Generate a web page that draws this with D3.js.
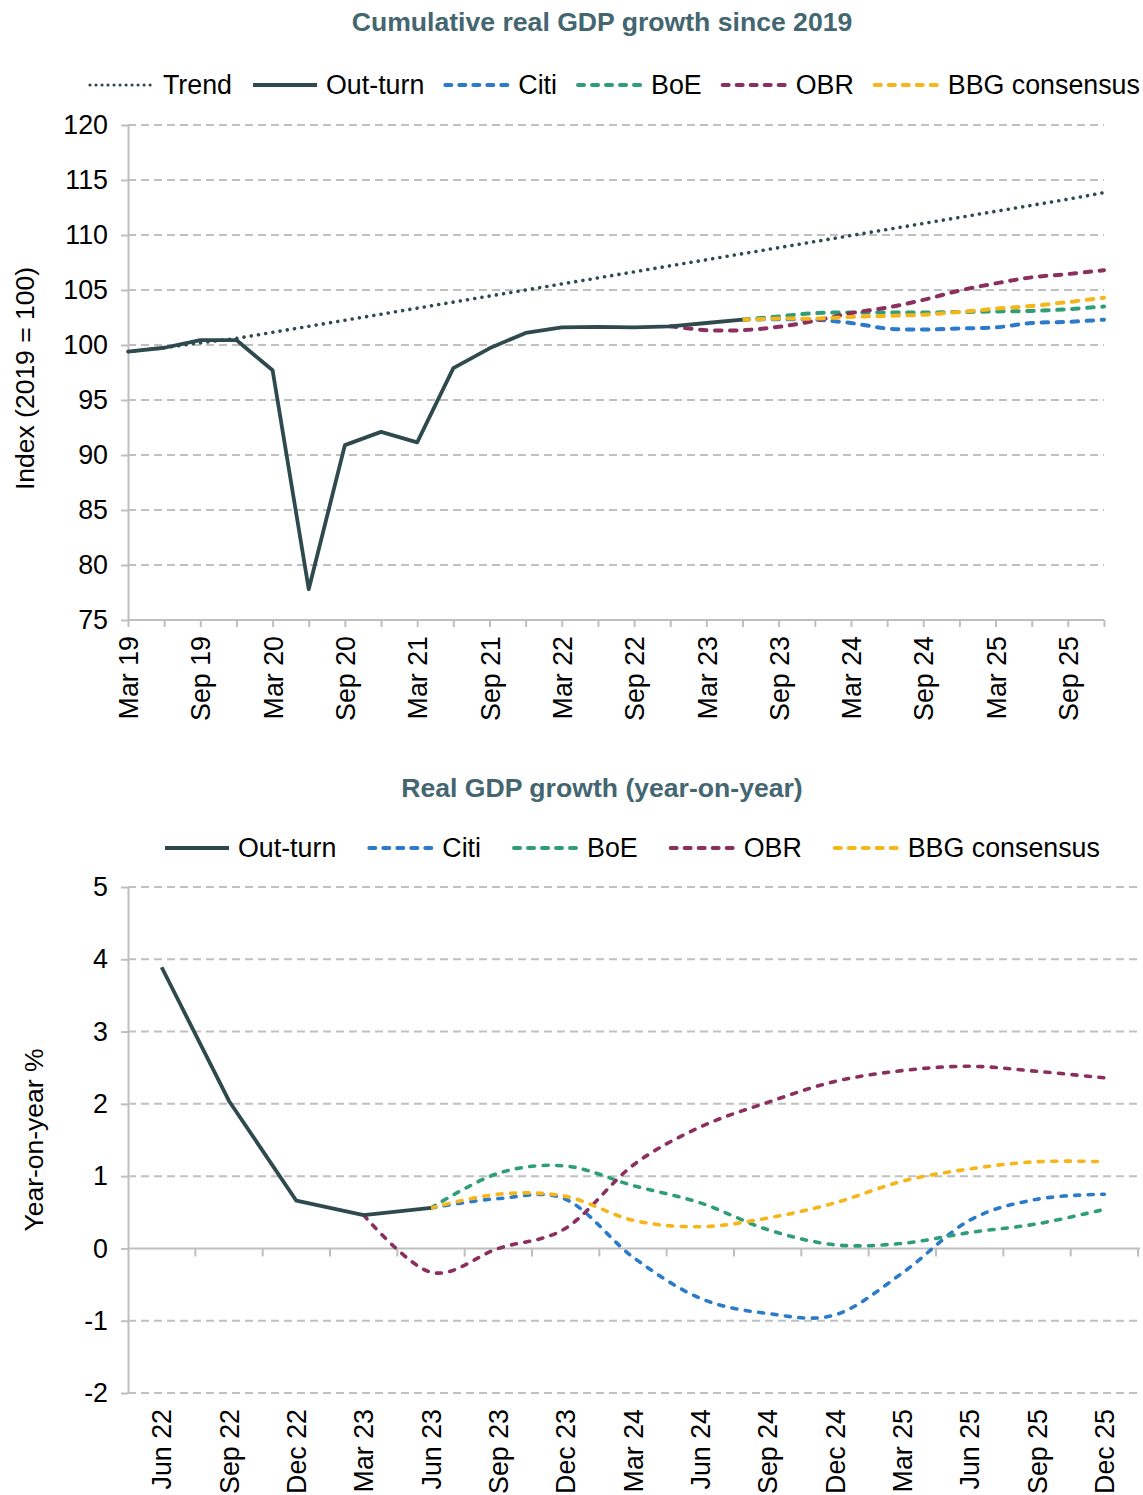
<!DOCTYPE html>
<html>
<head>
<meta charset="utf-8">
<script src="https://cdn.jsdelivr.net/npm/d3@7"></script>
<style>
    body { margin: 0; background: #fff; }
    svg { display: block; font-family: "Liberation Sans", Arial, sans-serif; }
    .axis text { font-size: 26.8px; fill: #000; }
    .grid line { stroke: #c0c0c0; stroke-width: 2; stroke-dasharray: 8,5; }
    .title { font-size: 26.6px; font-weight: bold; fill: #436670; }
    .legend text { font-size: 26.8px; fill: #000; }
    .ytitle { font-size: 26.5px; fill: #000; }
</style>
</head>
<body>
<svg id="chart" width="1143" height="1495"></svg>
<script>
// ---- data: cumulative index (top chart) ----
var topQuarters = ["Mar 19","Jun 19","Sep 19","Dec 19","Mar 20","Jun 20","Sep 20","Dec 20",
                   "Mar 21","Jun 21","Sep 21","Dec 21","Mar 22","Jun 22","Sep 22","Dec 22",
                   "Mar 23","Jun 23","Sep 23","Dec 23","Mar 24","Jun 24","Sep 24","Dec 24",
                   "Mar 25","Jun 25","Sep 25","Dec 25"];
var topYTicks = [75, 80, 85, 90, 95, 100, 105, 110, 115, 120];

var trendTop = [99.4, 99.75, 100.2, 100.6, 101.15, 101.7, 102.25, 102.8, 103.35, 103.9, 104.45, 105.0,
                105.55, 106.1, 106.65, 107.2, 107.75, 108.3, 108.85, 109.4, 109.95, 110.5, 111.05,
                111.6, 112.15, 112.7, 113.25, 113.85];
var outturnTop = [99.4, 99.75, 100.45, 100.45, 97.7, 77.8, 90.9, 92.1, 91.15, 97.9, 99.7, 101.1,
                  101.6, 101.65, 101.6, 101.7, 102.0, 102.3];
// forecasts start at Jun 23 (OBR at Dec 22)
var citiTop = [102.3, 102.35, 102.3, 102.0, 101.5, 101.4, 101.5, 101.6, 102.0, 102.1, 102.3];
var boeTop  = [102.3, 102.6, 102.9, 102.95, 102.95, 102.95, 103.0, 103.05, 103.1, 103.25, 103.5];
var bbgTop  = [102.3, 102.4, 102.4, 102.55, 102.65, 102.75, 103.0, 103.3, 103.55, 103.9, 104.3];
var obrTop  = [101.7, 101.35, 101.35, 101.65, 102.2, 102.9, 103.4, 104.1, 104.95, 105.6, 106.15, 106.45, 106.8];

// ---- data: year-on-year growth (bottom chart) ----
var botQuarters = ["Jun 22","Sep 22","Dec 22","Mar 23","Jun 23","Sep 23","Dec 23","Mar 24",
                   "Jun 24","Sep 24","Dec 24","Mar 25","Jun 25","Sep 25","Dec 25"];
var botYTicks = [-2, -1, 0, 1, 2, 3, 4, 5];

var outturnBot = [3.89, 2.04, 0.66, 0.46, 0.56];
// forecasts start at Jun 23 (OBR at Mar 23)
var citiBot = [0.56, 0.69, 0.68, -0.12, -0.69, -0.9, -0.92, -0.34, 0.39, 0.68, 0.75];
var boeBot  = [0.56, 1.04, 1.14, 0.87, 0.63, 0.26, 0.05, 0.07, 0.22, 0.34, 0.54];
var bbgBot  = [0.56, 0.75, 0.72, 0.39, 0.30, 0.42, 0.63, 0.93, 1.10, 1.20, 1.20];
var obrBot  = [0.46, -0.33, 0.0, 0.28, 1.15, 1.68, 2.02, 2.31, 2.46, 2.52, 2.45, 2.36];

var COL = {
    outturn: "#2f4a4f",
    citi: "#2b7bca",
    boe: "#2f9e77",
    obr: "#8b2f5f",
    bbg: "#f6b518",
    axis: "#bfbfbf"
};

var svg = d3.select("#chart");

// pair up values with the quarter they belong to
function series(labels, values, startLabel) {
    var i0 = labels.indexOf(startLabel);
    return values.map(function(v, i) { return { q: labels[i0 + i], v: v }; });
}

function drawLegend(items, x0, yMid, gap) {
    var g = svg.append("g").attr("class", "legend");
    var x = x0;
    items.forEach(function(it) {
        g.append("line")
            .attr("x1", x + 2).attr("x2", x + 66)
            .attr("y1", yMid).attr("y2", yMid)
            .attr("stroke", it.color)
            .attr("stroke-width", it.width)
            .attr("stroke-linecap", it.cap)
            .attr("stroke-dasharray", it.dash);
        var t = g.append("text")
            .attr("x", x + 75)
            .attr("y", yMid)
            .attr("dy", "0.35em")
            .text(it.name);
        x += 75 + t.node().getComputedTextLength() + gap;
    });
}

var dashedKey = function(name, color) {
    return { name: name, color: color, width: 4, cap: "round", dash: "6,8" };
};

// ================= TOP CHART =================
var topLeft = 128, topRight = 1104, topTop = 125, topBottom = 620;

var x1 = d3.scalePoint().domain(topQuarters).range([topLeft, topRight]);
var y1 = d3.scaleLinear().domain([75, 120]).range([topBottom, topTop]);

svg.append("text").attr("class", "title")
    .attr("x", 602).attr("y", 31).attr("text-anchor", "middle")
    .text("Cumulative real GDP growth since 2019");

drawLegend([
    { name: "Trend", color: COL.outturn, width: 3.2, cap: "round", dash: "0.01,6" },
    { name: "Out-turn", color: COL.outturn, width: 4, cap: "butt", dash: null },
    dashedKey("Citi", COL.citi),
    dashedKey("BoE", COL.boe),
    dashedKey("OBR", COL.obr),
    dashedKey("BBG consensus", COL.bbg)
], 88, 85, 19);

// gridlines
svg.append("g").attr("class", "grid")
    .selectAll("line")
    .data(topYTicks.filter(function(d) { return d > 75; }))
    .enter().append("line")
    .attr("x1", topLeft).attr("x2", topRight)
    .attr("y1", function(d) { return y1(d); })
    .attr("y2", function(d) { return y1(d); });

// y axis
var yAx1 = svg.append("g").attr("class", "axis")
    .attr("transform", "translate(" + topLeft + ",0)")
    .call(d3.axisLeft(y1).tickValues(topYTicks).tickSize(7).tickPadding(13).tickSizeOuter(0));
yAx1.selectAll("path, line").attr("stroke", COL.axis).attr("stroke-width", 2);
yAx1.selectAll("text").style("font-family", "inherit");

// x axis
var xAx1 = svg.append("g").attr("class", "axis")
    .attr("transform", "translate(0," + topBottom + ")")
    .call(d3.axisBottom(x1).tickSize(7).tickSizeOuter(0)
        .tickFormat(function(d) { return (d.indexOf("Mar") === 0 || d.indexOf("Sep") === 0) ? d : ""; }));
xAx1.select(".domain").attr("d", "M" + topLeft + ",0H" + topRight);
xAx1.selectAll("path, line").attr("stroke", COL.axis).attr("stroke-width", 2);
xAx1.selectAll("text")
    .style("font-family", "inherit")
    .attr("transform", "rotate(-90)")
    .attr("text-anchor", "end")
    .attr("x", -16).attr("y", 0).attr("dy", "0.36em");

svg.append("text").attr("class", "ytitle")
    .attr("transform", "translate(34," + ((topTop + topBottom) / 2 + 6) + ") rotate(-90)")
    .attr("text-anchor", "middle")
    .text("Index (2019 = 100)");

var straight1 = d3.line().x(function(d) { return x1(d.q); }).y(function(d) { return y1(d.v); });
var smooth1 = d3.line().curve(d3.curveCatmullRom.alpha(0))
    .x(function(d) { return x1(d.q); }).y(function(d) { return y1(d.v); });

var plot1 = svg.append("g").attr("fill", "none");

plot1.append("path")
    .datum(series(topQuarters, trendTop, "Mar 19"))
    .attr("d", straight1)
    .attr("stroke", COL.outturn).attr("stroke-width", 3.6)
    .attr("stroke-linecap", "round").attr("stroke-dasharray", "0.01,7.3");

[[citiTop, COL.citi, "Jun 23"], [boeTop, COL.boe, "Jun 23"], [obrTop, COL.obr, "Dec 22"], [bbgTop, COL.bbg, "Jun 23"]]
    .forEach(function(s) {
        plot1.append("path")
            .datum(series(topQuarters, s[0], s[2]))
            .attr("d", smooth1)
            .attr("stroke", s[1]).attr("stroke-width", 4)
            .attr("stroke-linecap", "round").attr("stroke-dasharray", "6.5,8.5");
    });

plot1.append("path")
    .datum(series(topQuarters, outturnTop, "Mar 19"))
    .attr("d", straight1)
    .attr("stroke", COL.outturn).attr("stroke-width", 3.8)
    .attr("stroke-linejoin", "round");

// ================= BOTTOM CHART =================
var botLeft = 128, botRight = 1138, botTop = 887, botBottom = 1393;

var x2 = d3.scaleBand().domain(botQuarters).range([botLeft, botRight]);
var y2 = d3.scaleLinear().domain([-2, 5]).range([botBottom, botTop]);
var cx2 = function(q) { return x2(q) + x2.bandwidth() / 2; };

svg.append("text").attr("class", "title")
    .attr("x", 602).attr("y", 797).attr("text-anchor", "middle")
    .text("Real GDP growth (year-on-year)");

drawLegend([
    { name: "Out-turn", color: COL.outturn, width: 4, cap: "butt", dash: null },
    dashedKey("Citi", COL.citi),
    dashedKey("BoE", COL.boe),
    dashedKey("OBR", COL.obr),
    dashedKey("BBG consensus", COL.bbg)
], 163, 848, 31);

svg.append("g").attr("class", "grid")
    .selectAll("line")
    .data(botYTicks.filter(function(d) { return d !== 0; }))
    .enter().append("line")
    .attr("x1", botLeft).attr("x2", botRight + 2)
    .attr("y1", function(d) { return y2(d); })
    .attr("y2", function(d) { return y2(d); });

var yAx2 = svg.append("g").attr("class", "axis")
    .attr("transform", "translate(" + botLeft + ",0)")
    .call(d3.axisLeft(y2).tickValues(botYTicks).tickSize(7).tickPadding(13).tickSizeOuter(0)
        .tickFormat(function(d) { return String(d); }));
yAx2.selectAll("path, line").attr("stroke", COL.axis).attr("stroke-width", 2);
yAx2.selectAll("text").style("font-family", "inherit");

// zero line with tick marks between categories
var zeroAx = svg.append("g").attr("stroke", COL.axis).attr("stroke-width", 2);
zeroAx.append("line")
    .attr("x1", botLeft).attr("x2", botRight + 2)
    .attr("y1", y2(0)).attr("y2", y2(0));
zeroAx.selectAll(".tk")
    .data(botQuarters)
    .enter().append("line")
    .attr("class", "tk")
    .attr("x1", function(d) { return x2(d) + x2.bandwidth(); })
    .attr("x2", function(d) { return x2(d) + x2.bandwidth(); })
    .attr("y1", y2(0)).attr("y2", y2(0) + 8);

var xAx2 = svg.append("g").attr("class", "axis")
    .attr("transform", "translate(0," + botBottom + ")")
    .call(d3.axisBottom(x2).tickSize(0));
xAx2.select(".domain").remove();
xAx2.selectAll("text")
    .style("font-family", "inherit")
    .attr("transform", "rotate(-90)")
    .attr("text-anchor", "end")
    .attr("x", -16).attr("y", 0).attr("dy", "0.36em");

svg.append("text").attr("class", "ytitle")
    .attr("transform", "translate(43," + ((botTop + botBottom) / 2) + ") rotate(-90)")
    .attr("text-anchor", "middle")
    .text("Year-on-year %");

var straight2 = d3.line().x(function(d) { return cx2(d.q); }).y(function(d) { return y2(d.v); });
var smooth2 = d3.line().curve(d3.curveCatmullRom.alpha(0))
    .x(function(d) { return cx2(d.q); }).y(function(d) { return y2(d.v); });

var plot2 = svg.append("g").attr("fill", "none");

[[citiBot, COL.citi, "Jun 23"], [boeBot, COL.boe, "Jun 23"], [obrBot, COL.obr, "Mar 23"], [bbgBot, COL.bbg, "Jun 23"]]
    .forEach(function(s) {
        plot2.append("path")
            .datum(series(botQuarters, s[0], s[2]))
            .attr("d", smooth2)
            .attr("stroke", s[1]).attr("stroke-width", 3.6)
            .attr("stroke-linecap", "round").attr("stroke-dasharray", "5,8.5");
    });

plot2.append("path")
    .datum(series(botQuarters, outturnBot, "Jun 22"))
    .attr("d", straight2)
    .attr("stroke", COL.outturn).attr("stroke-width", 3.8)
    .attr("stroke-linejoin", "round");
</script>
</body>
</html>
